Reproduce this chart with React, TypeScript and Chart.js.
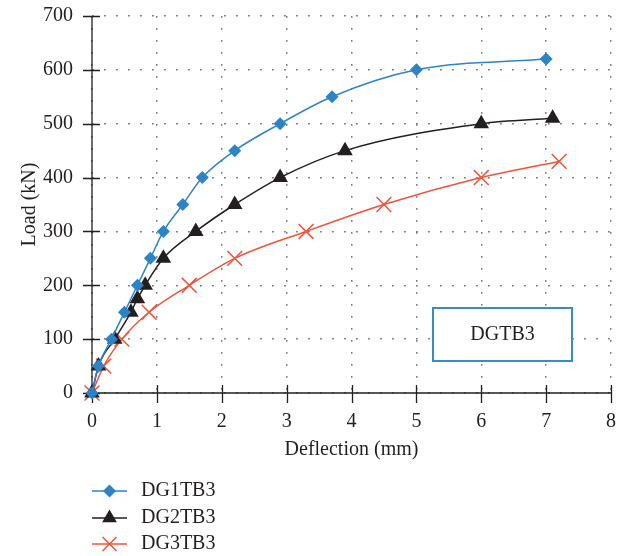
import React, { useEffect, useRef } from "react";
import { Chart, registerables } from "chart.js";

Chart.register(...registerables);

// Load–deflection test results for the three beams
const dg1Deflection = [0, 0.1, 0.3, 0.5, 0.7, 0.9, 1.1, 1.4, 1.7, 2.2, 2.9, 3.7, 5.0, 7.0];
const dg1Load = [0, 50, 100, 150, 200, 250, 300, 350, 400, 450, 500, 550, 600, 620];

const dg2Deflection = [0, 0.1, 0.35, 0.6, 0.7, 0.82, 1.1, 1.6, 2.2, 2.9, 3.9, 6.0, 7.1];
const dg2Load = [0, 50, 100, 150, 175, 200, 250, 300, 350, 400, 450, 500, 510];

const dg3Deflection = [0, 0.18, 0.46, 0.88, 1.5, 2.2, 3.3, 4.5, 6.0, 7.2];
const dg3Load = [0, 50, 100, 150, 200, 250, 300, 350, 400, 430];

const seriesNames = ["DG1TB3", "DG2TB3", "DG3TB3"];
const xTicks = [0, 1, 2, 3, 4, 5, 6, 7, 8];
const yTicks = [0, 100, 200, 300, 400, 500, 600, 700];
const boxLabel = "DGTB3";

const BLUE = "#2c84c6";
const BLACK = "#231f20";
const RED = "#f0523a";
const FONT = "'Liberation Serif', 'Times New Roman', serif";

const toPoints = (xs: number[], ys: number[]) => xs.map((x, i) => ({ x, y: ys[i] }));

function drawMarker(ctx: CanvasRenderingContext2D, kind: string, x: number, y: number, color: string) {
  ctx.save();
  ctx.fillStyle = color;
  ctx.strokeStyle = color;
  ctx.beginPath();
  if (kind === "diamond") {
    const r = 6.5;
    ctx.moveTo(x, y - r);
    ctx.lineTo(x + r, y);
    ctx.lineTo(x, y + r);
    ctx.lineTo(x - r, y);
    ctx.closePath();
    ctx.fill();
  } else if (kind === "triangle") {
    const r = 8.5;
    ctx.moveTo(x, y - r);
    ctx.lineTo(x + r * 0.866, y + r * 0.5);
    ctx.lineTo(x - r * 0.866, y + r * 0.5);
    ctx.closePath();
    ctx.fill();
  } else {
    const r = 7;
    ctx.lineWidth = 1.5;
    ctx.moveTo(x - r, y - r);
    ctx.lineTo(x + r, y + r);
    ctx.moveTo(x + r, y - r);
    ctx.lineTo(x - r, y + r);
    ctx.stroke();
  }
  ctx.restore();
}

// Solid axes with tick marks that cross the axis line
const axesPlugin = {
  id: "crossAxes",
  beforeDatasetsDraw(chart: any) {
    const { ctx, chartArea } = chart;
    const xs = chart.scales.x;
    const ys = chart.scales.y;
    ctx.save();
    ctx.strokeStyle = BLACK;
    ctx.lineWidth = 1.3;
    ctx.beginPath();
    ctx.moveTo(chartArea.left, chartArea.top);
    ctx.lineTo(chartArea.left, chartArea.bottom);
    ctx.lineTo(chartArea.right, chartArea.bottom);
    yTicks.forEach((v) => {
      const py = Math.round(ys.getPixelForValue(v)) + 0.5;
      ctx.moveTo(chartArea.left - 9, py);
      ctx.lineTo(chartArea.left + 8, py);
    });
    xTicks.forEach((v) => {
      const px = Math.round(xs.getPixelForValue(v)) + 0.5;
      ctx.moveTo(px, chartArea.bottom - 8);
      ctx.lineTo(px, chartArea.bottom + 10);
    });
    ctx.stroke();
    ctx.restore();
  },
};

// Label box in the plot plus the stacked legend beneath the axes
const overlayPlugin = {
  id: "overlay",
  afterDraw(chart: any) {
    const { ctx } = chart;
    ctx.save();
    ctx.fillStyle = "#ffffff";
    ctx.fillRect(433, 308, 139, 53);
    ctx.strokeStyle = "#3b8ac8";
    ctx.lineWidth = 2;
    ctx.strokeRect(433, 308, 139, 53);
    ctx.fillStyle = BLACK;
    ctx.font = `20px ${FONT}`;
    ctx.textAlign = "center";
    ctx.textBaseline = "middle";
    ctx.fillText(boxLabel, 502.5, 335);

    const colors = [BLUE, BLACK, RED];
    const kinds = ["diamond", "triangle", "cross"];
    const rows = [491, 518, 544];
    seriesNames.forEach((name, i) => {
      const y = rows[i];
      ctx.strokeStyle = colors[i];
      ctx.lineWidth = 1.5;
      ctx.beginPath();
      ctx.moveTo(92, y);
      ctx.lineTo(127, y);
      ctx.stroke();
      drawMarker(ctx, kinds[i], 109.5, y, colors[i]);
      ctx.fillStyle = BLACK;
      ctx.textAlign = "left";
      ctx.textBaseline = "middle";
      ctx.fillText(name, 141, y);
    });
    ctx.restore();
  },
};

export default function App() {
  const canvasRef = useRef<HTMLCanvasElement | null>(null);

  useEffect(() => {
    if (!canvasRef.current) return;
    const chart = new Chart(canvasRef.current, {
      type: "line",
      data: {
        datasets: [
          {
            label: seriesNames[0],
            data: toPoints(dg1Deflection, dg1Load),
            borderColor: BLUE,
            backgroundColor: BLUE,
            borderWidth: 1.5,
            pointStyle: "rectRot",
            pointRadius: 6.5,
            pointBorderWidth: 0,
            cubicInterpolationMode: "monotone",
            clip: false,
          },
          {
            label: seriesNames[1],
            data: toPoints(dg2Deflection, dg2Load),
            borderColor: BLACK,
            backgroundColor: BLACK,
            borderWidth: 1.5,
            pointStyle: "triangle",
            pointRadius: 9,
            pointBorderWidth: 0,
            cubicInterpolationMode: "monotone",
            clip: false,
          },
          {
            label: seriesNames[2],
            data: toPoints(dg3Deflection, dg3Load),
            borderColor: RED,
            backgroundColor: RED,
            borderWidth: 1.5,
            pointStyle: "crossRot",
            pointRadius: 10.5,
            pointBorderWidth: 1.5,
            cubicInterpolationMode: "monotone",
            clip: false,
          },
        ],
      },
      options: {
        animation: false,
        responsive: false,
        layout: { autoPadding: false, padding: { top: 16, right: 16, bottom: 93, left: 0 } },
        plugins: {
          legend: { display: false },
          tooltip: { enabled: false },
        },
        scales: {
          x: {
            type: "linear",
            min: 0,
            max: 8,
            afterBuildTicks: (scale: any) => {
              scale.ticks = xTicks.map((v) => ({ value: v }));
            },
            afterFit: (scale: any) => {
              scale.height = 70;
              scale.paddingLeft = 0;
              scale.paddingRight = 0;
            },
            grid: { color: "#7a7a7a", lineWidth: 1.5, drawTicks: false },
            border: { display: false, dash: [1.8, 10.2] },
            ticks: {
              padding: 17,
              color: BLACK,
              font: { family: FONT, size: 20 },
            },
            title: {
              display: true,
              text: "Deflection (mm)",
              color: BLACK,
              font: { family: FONT, size: 20 },
              padding: { top: 0, bottom: 1 },
            },
          },
          y: {
            type: "linear",
            min: 0,
            max: 700,
            afterBuildTicks: (scale: any) => {
              scale.ticks = yTicks.map((v) => ({ value: v }));
            },
            afterFit: (scale: any) => {
              scale.width = 92;
              scale.paddingTop = 0;
              scale.paddingBottom = 0;
            },
            grid: { color: "#7a7a7a", lineWidth: 1.5, drawTicks: false },
            border: { display: false, dash: [1.8, 10.2] },
            ticks: {
              padding: 19,
              color: BLACK,
              font: { family: FONT, size: 20 },
            },
            title: {
              display: true,
              text: "Load (kN)",
              color: BLACK,
              font: { family: FONT, size: 20 },
              padding: { top: 18, bottom: 0 },
            },
          },
        },
      },
      plugins: [axesPlugin, overlayPlugin],
    } as any);
    return () => chart.destroy();
  }, []);

  return (
    <div style={{ position: "fixed", left: 0, top: 0, width: 627, height: 556, background: "#ffffff" }}>
      <canvas ref={canvasRef} width={627} height={556} />
    </div>
  );
}
